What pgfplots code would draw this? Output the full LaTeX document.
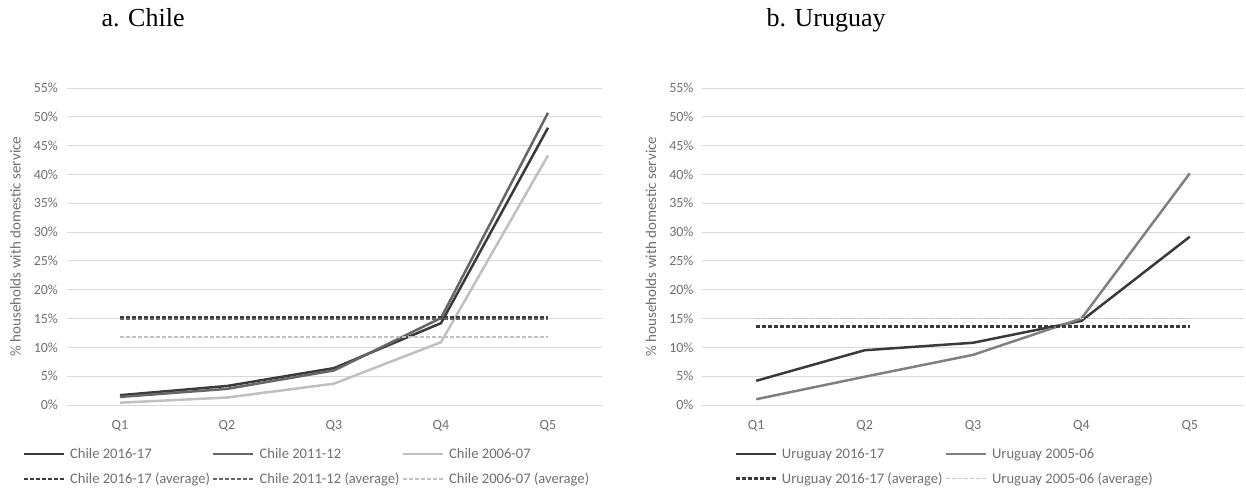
\documentclass[border=0pt]{standalone}
\usepackage{fontspec}
\setmainfont{Carlito}
\newfontfamily\titlefont{Liberation Serif}
\usepackage{pgfplots}
\pgfplotsset{compat=1.18}
\definecolor{cdark}{HTML}{3A3A3A}
\definecolor{cmid}{HTML}{666666}
\definecolor{cmidb}{HTML}{808080}
\definecolor{clight}{HTML}{C0C0C0}
\definecolor{cgrid}{HTML}{D9D9D9}
\definecolor{ctext}{HTML}{707070}
\pgfplotsset{
  mystyle/.style={
    scale only axis, height=317pt,
    xmin=0.5, xmax=5.5, ymin=0, ymax=55,
    xtick={1,2,3,4,5}, xticklabels={Q1,Q2,Q3,Q4,Q5},
    ytick={0,5,...,55},
    yticklabels={0\%,5\%,10\%,15\%,20\%,25\%,30\%,35\%,40\%,45\%,50\%,55\%},
    axis line style={draw=none}, major tick length=0pt,
    ymajorgrids, grid style={cgrid, line width=1pt},
    tick label style={font=\fontsize{14}{16}\selectfont, text=ctext},
    xticklabel style={yshift=-12pt},
    yticklabel style={xshift=-5pt},
    ylabel={\% households with domestic service},
    ylabel style={font=\fontsize{15}{17}\selectfont, text=ctext, at={(axis description cs:0,0.5)}, anchor=center, yshift=51pt},
    legend style={draw=none, fill=none, font=\fontsize{14.6}{16}\selectfont, text=ctext, row sep=9pt,
      /tikz/every odd column/.append style={column sep=3pt}},
    legend cell align=left,
    legend image code/.code={\draw[#1] (0pt,0pt) -- (40pt,0pt);},
    clip=false,
  }
}
\begin{document}
\begin{tikzpicture}
\useasboundingbox (0,0) rectangle (1246pt,491pt);
\node[anchor=base west, font=\titlefont\fontsize{26}{30}\selectfont] at (98pt,464pt) {a. Chile};
\node[anchor=base west, font=\titlefont\fontsize{26}{30}\selectfont] at (763pt,464pt) {b. Uruguay};
\begin{axis}[mystyle, at={(66.5pt,86pt)}, anchor=south west, width=535pt,
  legend columns=3,
  legend style={at={(-0.088,-0.123)}, anchor=north west}]
\addplot[cdark, line width=2.5pt] coordinates {(1,1.7) (2,3.3) (3,6.4) (4,14.2) (5,48.1)};
\addlegendentry{Chile 2016-17}
\addplot[cmid, line width=2.5pt] coordinates {(1,1.4) (2,2.8) (3,6.0) (4,15.1) (5,50.7)};
\addlegendentry{Chile 2011-12}
\addplot[clight, line width=2.5pt] coordinates {(1,0.4) (2,1.3) (3,3.7) (4,10.9) (5,43.3)};
\addlegendentry{Chile 2006-07}
\addplot[cdark, line width=2.5pt, dash pattern=on 4pt off 2pt] coordinates {(1,15.2) (5,15.2)};
\addlegendentry{Chile 2016-17 (average)}
\addplot[cmid, line width=2.5pt, dash pattern=on 4pt off 2pt] coordinates {(1,14.9) (5,14.9)};
\addlegendentry{Chile 2011-12 (average)}
\addplot[clight, line width=2.5pt, dash pattern=on 4pt off 2pt] coordinates {(1,11.8) (5,11.8)};
\addlegendentry{Chile 2006-07 (average)}
\end{axis}
\begin{axis}[mystyle, at={(702pt,86pt)}, anchor=south west, width=542pt,
  legend columns=2,
  legend style={at={(0.054,-0.123)}, anchor=north west}]
\addplot[cdark, line width=2.5pt] coordinates {(1,4.2) (2,9.5) (3,10.8) (4,14.6) (5,29.2)};
\addlegendentry{Uruguay 2016-17}
\addplot[cmidb, line width=2.5pt] coordinates {(1,1.0) (2,4.9) (3,8.7) (4,15.0) (5,40.2)};
\addlegendentry{Uruguay 2005-06}
\addplot[cdark, line width=2.5pt, dash pattern=on 4pt off 2pt] coordinates {(1,13.6) (5,13.6)};
\addlegendentry{Uruguay 2016-17 (average)}
\addplot[cmidb!45, line width=1.5pt, dash pattern=on 4pt off 2pt] coordinates {(1,15.0) (5,15.0)};
\addlegendentry{Uruguay 2005-06 (average)}
\end{axis}
\end{tikzpicture}
\end{document}
